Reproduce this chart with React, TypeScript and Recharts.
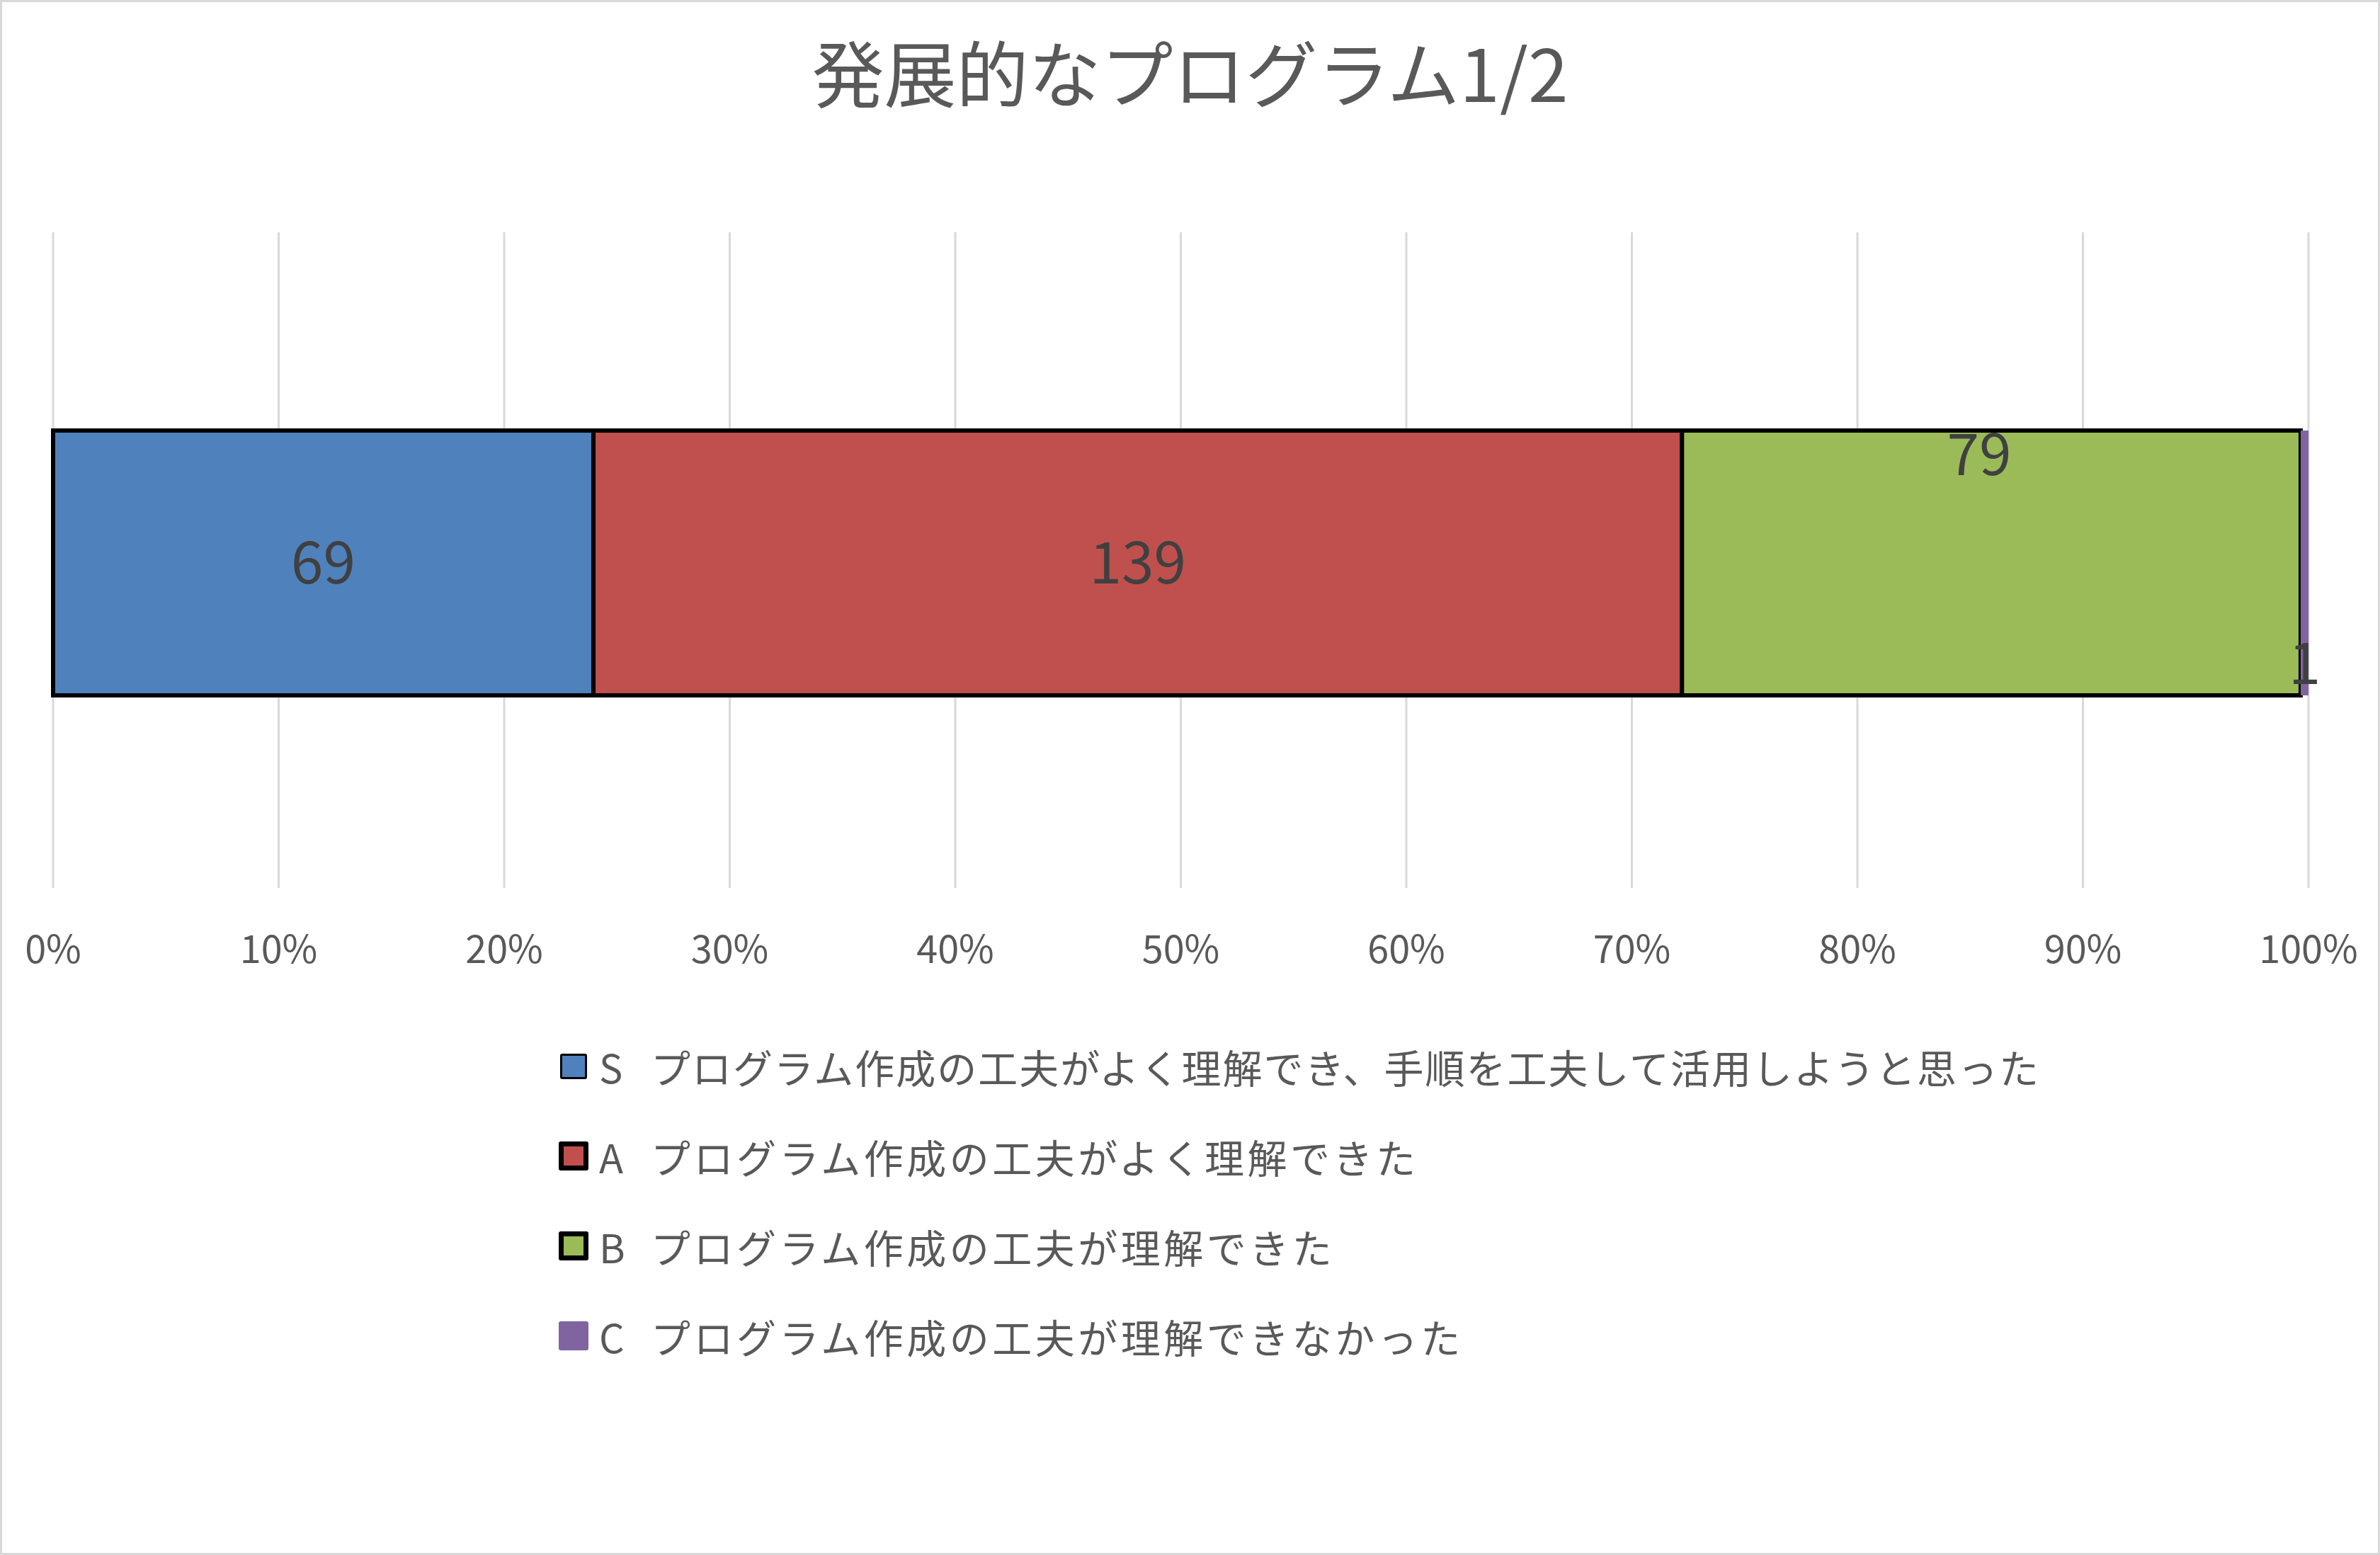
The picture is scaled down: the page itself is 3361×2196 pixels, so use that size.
import { BarChart, Bar, XAxis, YAxis, CartesianGrid, LabelList } from 'recharts'

const categories = ['S', 'A', 'B', 'C']
const seriesValues = [69, 139, 79, 1]
const legendTexts = [
  'プログラム作成の工夫がよく理解でき、手順を工夫して活用しようと思った',
  'プログラム作成の工夫がよく理解できた',
  'プログラム作成の工夫が理解できた',
  'プログラム作成の工夫が理解できなかった',
]
const tickValues = [0, 0.1, 0.2, 0.3, 0.4, 0.5, 0.6, 0.7, 0.8, 0.9, 1]
const title = '発展的なプログラム1/2'

const colors = ['#4f81bd', '#c0504d', '#9bbb59', '#8064a2']
const labelPositions = ['center', 'center', 'insideTop', 'insideBottom'] as const
const labelOffsets = [5, 5, 5, 16]
const labelDx = [0, 0, -17, 0]
const swatchBorders = [3, 7, 7, 0]
const legendSpacing = [2, 4.5, 4.5, 4.5]

const FONT = '"Noto Sans CJK JP", "Noto Sans", sans-serif'

const row: Record<string, number | string> = { name: '' }
categories.forEach((c, i) => {
  row[c] = seriesValues[i]
})
const chartData = [row]

export default function App() {
  return (
    <div
      style={{
        position: 'absolute',
        left: 0,
        top: 0,
        width: 3361,
        height: 2196,
        boxSizing: 'border-box',
        border: '3px solid #d9d9d9',
        background: '#fff',
        fontFamily: FONT,
        overflow: 'hidden',
      }}
    >
      <div
        style={{
          position: 'absolute',
          left: -3,
          width: 3361,
          top: 46,
          textAlign: 'center',
          fontSize: 102,
          lineHeight: 1,
          color: '#595959',
        }}
      >
        {title}
      </div>

      <div style={{ position: 'absolute', left: -3, top: -3 }}>
        <BarChart
          width={3361}
          height={1400}
          data={chartData}
          layout="vertical"
          stackOffset="expand"
          margin={{ top: 328, right: 101, bottom: 46, left: 75 }}
        >
          <CartesianGrid horizontal={false} stroke="#d9d9d9" strokeWidth={3} />
          <XAxis
            type="number"
            domain={[0, 1]}
            ticks={tickValues}
            tickFormatter={(v: number) => `${Math.round(v * 100)}%`}
            axisLine={false}
            tickLine={false}
            tickSize={0}
            tickMargin={68}
            height={100}
            interval={0}
            tick={{ fontSize: 54, fill: '#595959', fontFamily: FONT }}
          />
          <YAxis type="category" dataKey="name" hide padding={{ top: 8, bottom: 0 }} />
          {categories.map((c, i) => (
            <Bar
              key={c}
              dataKey={c}
              stackId="a"
              fill={colors[i]}
              stroke={i < 3 ? '#000' : 'none'}
              strokeWidth={i < 3 ? 6 : 0}
              barSize={374}
              isAnimationActive={false}
            >
              <LabelList
                dataKey={c}
                position={labelPositions[i]}
                offset={labelOffsets[i]}
                dx={labelDx[i]}
                fill="#404040"
                fontSize={82}
                fontFamily={FONT}
                isAnimationActive={false}
              />
            </Bar>
          ))}
        </BarChart>
      </div>

      <div style={{ position: 'absolute', left: 786, top: 1439 }}>
        {legendTexts.map((text, i) => (
          <div
            key={text}
            style={{
              display: 'flex',
              alignItems: 'center',
              height: 127,
              fontSize: 56,
              lineHeight: 1,
              color: '#595959',
              whiteSpace: 'nowrap',
            }}
          >
            <span
              style={{
                display: 'inline-block',
                width: i === 0 ? 38 : 42,
                height: i === 0 ? 36 : 41,
                marginLeft: i === 0 ? 2 : 0,
                marginRight: i === 0 ? 17 : 15,
                boxSizing: 'border-box',
                background: colors[i],
                border: swatchBorders[i] ? `${swatchBorders[i]}px solid #000` : 'none',
                borderRadius: 3,
              }}
            />
            <span style={{ display: 'inline-block', width: 73 }}>{categories[i]}</span>
            <span style={{ letterSpacing: legendSpacing[i] }}>{text}</span>
          </div>
        ))}
      </div>
    </div>
  )
}
